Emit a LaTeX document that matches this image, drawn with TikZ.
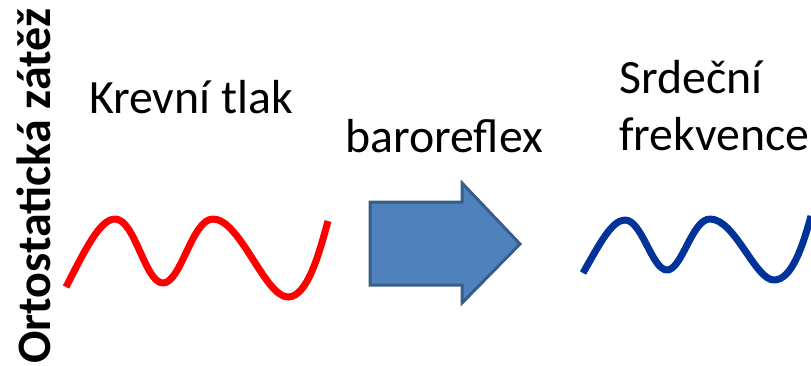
\documentclass[tikz,border=0pt]{standalone}
\usepackage{fontspec}
\setmainfont{Carlito}
\definecolor{wavered}{HTML}{FF0000}
\definecolor{waveblue}{HTML}{003399}
\definecolor{arrowfill}{HTML}{4F81BD}
\definecolor{arrowline}{HTML}{385D8A}
\begin{document}
\begin{tikzpicture}[x=1pt,y=-1pt,
  lbl/.style={inner sep=0pt,anchor=base west,font=\fontsize{47.8}{57}\selectfont},
  vlbl/.style={inner sep=0pt,anchor=base west,rotate=90,font=\fontsize{48}{57}\selectfont\bfseries},
  wave/.style={line width=7pt,line cap=butt,line join=round},
  bigarrow/.style={fill=arrowfill,draw=arrowline,line width=3pt,line join=miter}]
\useasboundingbox (0,0) rectangle (811,365);
\node[vlbl] (load) at (50,364) {Ortostatická zátěž};
\node[lbl] (bp) at (89,113) {Krevní tlak};
\node[lbl] (baro) at (345,152) {baroreflex};
\node[lbl] (hr1) at (619,93) {Srdeční};
\node[lbl] (hr2) at (619,150) {frekvence};
\draw[wave,draw=wavered] (66,287) .. controls (85,250) and (100,219) .. (115,219)
  .. controls (135,219) and (145,283) .. (163,283)
  .. controls (181,283) and (192,219) .. (213,219)
  .. controls (240,219) and (265,297) .. (288,297)
  .. controls (308,297) and (320,250) .. (328,221);
\draw[bigarrow] (370,202) -- (462,202) -- (462,183) -- (520,244) -- (462,303) -- (462,285) -- (370,285) -- cycle;
\draw[wave,draw=waveblue] (583,273) .. controls (600,243) and (612,220) .. (625,220)
  .. controls (642,220) and (652,270) .. (667,270)
  .. controls (682,270) and (692,219) .. (710,219)
  .. controls (735,219) and (755,280) .. (774,280)
  .. controls (792,280) and (803,245) .. (811,216);
\end{tikzpicture}
\end{document}
